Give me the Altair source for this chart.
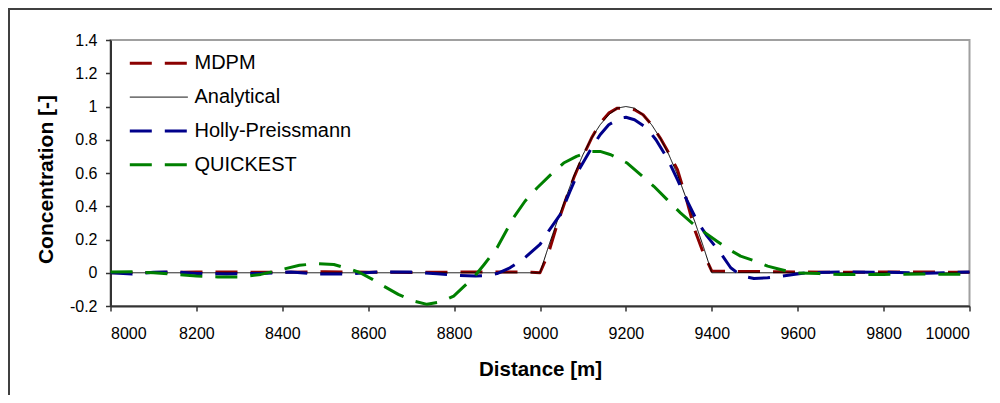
import altair as alt
import pandas as pd

# ---------------- data ----------------
series_order = ["MDPM", "Analytical", "Holly-Preissmann", "QUICKEST"]
series_colors = ["#8B0000", "#000000", "#00008B", "#008000"]
series_widths = [3, 1, 3, 3]

x_ticks = [8000, 8200, 8400, 8600, 8800, 9000, 9200, 9400, 9600, 9800, 10000]
y_ticks = [-0.2, 0, 0.2, 0.4, 0.6, 0.8, 1, 1.2, 1.4]

analytical_x = [8000, 9000, 9020, 9040, 9060, 9080, 9100, 9120, 9140, 9160, 9180,
                9200, 9220, 9240, 9260, 9280, 9300, 9320, 9340, 9360, 9380, 9400, 10000]
analytical_y = [0, 0, 0.16, 0.31, 0.45, 0.59, 0.71, 0.81, 0.89, 0.95, 0.99,
                1.0, 0.99, 0.95, 0.89, 0.81, 0.71, 0.59, 0.45, 0.31, 0.16, 0, 0]

mdpm_x = [8000, 8100, 8200, 8300, 8400, 8500, 8600, 8700, 8800, 8900, 8980, 9000,
          9020, 9040, 9060, 9080, 9100, 9120, 9140, 9160, 9180, 9200, 9220, 9240,
          9260, 9280, 9300, 9320, 9340, 9360, 9380, 9400, 9450, 9500, 9560, 9600,
          9700, 9800, 9900, 10000]
mdpm_y = [0, 0.002, 0.004, 0.004, 0.003, 0.006, 0.003, 0.002, 0.004, 0.005, 0.003, 0.0,
          0.12, 0.29, 0.44, 0.58, 0.70, 0.81, 0.90, 0.96, 0.99, 0.99, 0.98, 0.95,
          0.89, 0.81, 0.72, 0.62, 0.45, 0.26, 0.12, 0.01, 0.008, 0.008, 0.006, 0.004,
          0.003, 0.004, 0.004, 0.003]

holly_x = [8000, 8050, 8100, 8150, 8200, 8270, 8350, 8420, 8480, 8550, 8620, 8700,
           8760, 8800, 8850, 8880, 8900, 8930, 8960, 9000, 9020, 9047, 9070, 9093,
           9120, 9140, 9160, 9187, 9200, 9220, 9249, 9270, 9296, 9320, 9343, 9366,
           9389, 9420, 9444, 9470, 9498, 9530, 9560, 9590, 9620, 9700, 9800, 9900, 10000]
holly_y = [0, -0.008, 0.003, 0.006, -0.004, -0.008, -0.004, 0.004, -0.008, -0.008, 0.004, 0.004,
           -0.006, -0.015, -0.02, -0.015, -0.005, 0.03, 0.08, 0.17, 0.25, 0.35, 0.49, 0.63,
           0.75, 0.83, 0.89, 0.93, 0.935, 0.92, 0.87, 0.80, 0.69, 0.56, 0.43, 0.31,
           0.22, 0.12, 0.03, -0.02, -0.034, -0.03, -0.022, -0.01, 0.0, 0.005, 0.003, -0.003, 0.005]

quick_x = [8000, 8050, 8100, 8150, 8200, 8250, 8300, 8350, 8400, 8440, 8480, 8520,
           8560, 8581, 8610, 8636, 8670, 8705, 8737, 8770, 8799, 8820, 8845, 8870,
           8900, 8938, 8965, 8993, 9025, 9055, 9085, 9118, 9140, 9165, 9203, 9234,
           9265, 9296, 9327, 9358, 9385, 9412, 9440, 9467, 9506, 9530, 9560, 9590,
           9650, 9700, 9800, 9900, 10000]
quick_y = [0.005, 0.006, 0.0, -0.01, -0.02, -0.025, -0.025, -0.01, 0.02, 0.045, 0.055, 0.05,
           0.02, 0.0, -0.04, -0.08, -0.13, -0.17, -0.19, -0.175, -0.14, -0.09, -0.03, 0.05,
           0.15, 0.33, 0.43, 0.51, 0.59, 0.66, 0.70, 0.73, 0.73, 0.71, 0.66, 0.59,
           0.52, 0.44, 0.36, 0.29, 0.24, 0.19, 0.14, 0.10, 0.066, 0.04, 0.02, 0.0,
           -0.005, -0.01, -0.01, -0.008, -0.01]

# ---------------- tables ----------------
width_of = dict(zip(series_order, series_widths))
rows = []
for name, xs, ys in [("MDPM", mdpm_x, mdpm_y),
                     ("Analytical", analytical_x, analytical_y),
                     ("Holly-Preissmann", holly_x, holly_y),
                     ("QUICKEST", quick_x, quick_y)]:
    for xv, yv in zip(xs, ys):
        rows.append({"series": name, "x": xv, "y": yv, "w": width_of[name]})
df = pd.DataFrame(rows)

legend_df = pd.DataFrame({
    "series": series_order,
    "row": list(range(len(series_order))),
    "w": series_widths,
})

W, H = 859, 266
FONT = "Liberation Sans"

color_enc = alt.Color("series:N", scale=alt.Scale(domain=series_order, range=series_colors),
                      legend=None)
dash_enc = alt.StrokeDash("series:N",
                          scale=alt.Scale(domain=series_order,
                                          range=[[22, 13], [1, 0], [22, 13], [22, 13]]),
                          legend=None)
width_enc = alt.StrokeWidth("w:Q", scale=None, legend=None)

lines = alt.Chart(df).mark_line(strokeCap="butt", strokeJoin="round").encode(
    x=alt.X("x:Q",
            scale=alt.Scale(domain=[8000, 10000], nice=False, zero=False),
            axis=alt.Axis(values=x_ticks, format="d", title="Distance [m]",
                          labelPadding=14.5, titleY=69, titleBaseline="alphabetic",
                          titleFontSize=20.5)),
    y=alt.Y("y:Q",
            scale=alt.Scale(domain=[-0.2, 1.4], nice=False, zero=False),
            axis=alt.Axis(values=y_ticks, labelExpr="'' + datum.value",
                          title="Concentration [-]", labelPadding=8.5,
                          titleX=-58, titleY=139, titleAngle=270,
                          titleBaseline="alphabetic", titleAlign="center",
                          titleFontSize=21)),
    color=color_enc,
    strokeDash=dash_enc,
    strokeWidth=width_enc,
    order=alt.Order("x:Q"),
)

leg_y = alt.Y("row:Q", scale=alt.Scale(domain=[0, 3], range=[23.3, 124.7]), axis=None)

legend_lines = alt.Chart(legend_df).mark_rule(strokeCap="butt").encode(
    x=alt.value(19.3), x2=alt.value(77.3), y=leg_y,
    color=color_enc, strokeDash=dash_enc, strokeWidth=width_enc,
)
legend_text = alt.Chart(legend_df).mark_text(
    align="left", baseline="middle", font=FONT, fontSize=20, color="#000000"
).encode(
    x=alt.value(84), y=leg_y, text="series:N",
)

frame_df = pd.DataFrame({"k": [0]})
frame_top = alt.Chart(frame_df).mark_rule(color="#404040", strokeWidth=2).encode(
    x=alt.value(-103), x2=alt.value(W + 40), y=alt.value(-31)
)
frame_left = alt.Chart(frame_df).mark_rule(color="#404040", strokeWidth=2).encode(
    x=alt.value(-101.5), y=alt.value(-32), y2=alt.value(H + 120)
)

chart = alt.layer(lines, legend_lines, legend_text, frame_top, frame_left).resolve_scale(
    y="independent"
).properties(
    width=W, height=H,
    autosize=alt.AutoSizeParams(type="none"),
    padding={"left": 102.5, "top": 32, "right": 984 - 102.5 - W, "bottom": 387 - 32 - H},
).configure_view(
    stroke="#A0A0A0", strokeWidth=2
).configure_axis(
    grid=False, domainColor="#333333", domainWidth=2, tickColor="#333333",
    tickSize=5, tickWidth=1.5, labelFont=FONT, labelFontSize=16, labelColor="#000000",
    titleFont=FONT, titleFontWeight="bold", titleColor="#000000",
)

chart.save("out.html", embed_options={"renderer": "svg", "actions": False})
